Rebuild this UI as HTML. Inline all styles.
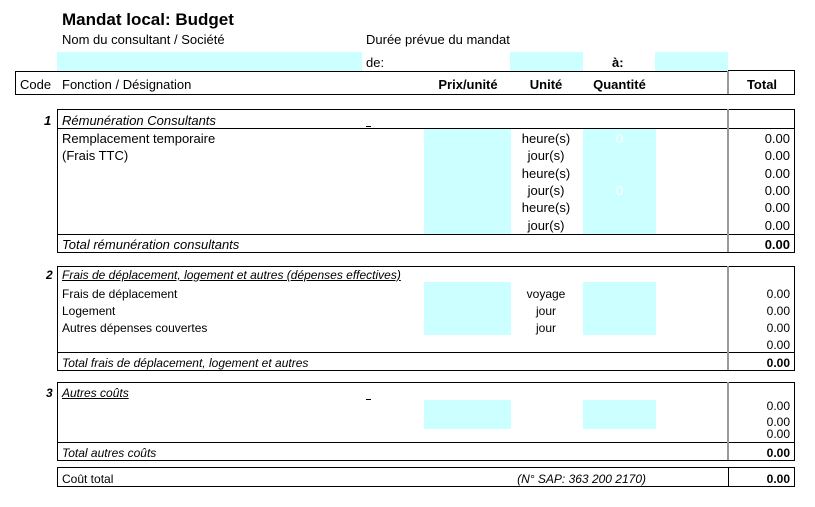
<!DOCTYPE html>
<html><head><meta charset="utf-8"><style>
body{margin:0;width:815px;height:507px;background:#fff;position:relative;overflow:hidden;font-family:"Liberation Sans",Arial,sans-serif;font-size:13px;color:#000}
.a{position:absolute;white-space:nowrap;line-height:14px}
.s .a{font-size:12px}
.c{position:absolute;background:#ccffff}
.h{position:absolute;height:1px;background:#000}
.v{position:absolute;width:1px;background:#000}
.g{position:absolute;width:2px;background:#999}
.r{text-align:right}
.m{text-align:center}
.i{font-style:italic}
.b{font-weight:bold}
.u{text-decoration:underline}
</style></head><body>
<div class="a b" style="left:62px;top:11px;font-size:17px;line-height:18px">Mandat local: Budget</div>
<div class="a" style="left:62px;top:33px">Nom du consultant / Société</div>
<div class="a" style="left:366px;top:33px">Durée prévue du mandat</div>
<div class="c" style="left:57px;top:52px;width:305px;height:19px"></div>
<div class="a" style="left:366px;top:56px">de:</div>
<div class="c" style="left:510px;top:52px;width:73px;height:19px"></div>
<div class="a b" style="left:612px;top:56px">à:</div>
<div class="c" style="left:655px;top:52px;width:73px;height:19px"></div>

<div>
<div class="h" style="left:15px;top:71px;width:713px"></div>
<div class="h" style="left:728px;top:70px;width:67px"></div>
<div class="h" style="left:15px;top:94px;width:780px"></div>
<div class="v" style="left:15px;top:71px;height:23px"></div>
<div class="g" style="left:727px;top:71px;height:23px"></div>
<div class="v" style="left:794px;top:70px;height:24px"></div>
<div class="a" style="left:20px;top:78px">Code</div>
<div class="a" style="left:62px;top:78px">Fonction / Désignation</div>
<div class="a b m" style="left:428px;top:78px;width:80px">Prix/unité</div>
<div class="a b m" style="left:516px;top:78px;width:60px">Unité</div>
<div class="a b m" style="left:583px;top:78px;width:73px">Quantité</div>
<div class="a b m" style="left:730px;top:78px;width:64px">Total</div>
</div>

<div>
<div class="h" style="left:57px;top:109px;width:738px"></div>
<div class="h" style="left:57px;top:128px;width:738px"></div>
<div class="h" style="left:57px;top:234px;width:738px"></div>
<div class="h" style="left:57px;top:252px;width:738px"></div>
<div class="v" style="left:57px;top:109px;height:143px"></div>
<div class="g" style="left:727px;top:109px;height:143px"></div>
<div class="v" style="left:794px;top:109px;height:143px"></div>
<div class="c" style="left:424px;top:129px;width:87px;height:105px"></div>
<div class="c" style="left:583px;top:129px;width:73px;height:105px"></div>
<div class="a b i" style="left:44px;top:114px">1</div>
<div class="a i" style="left:62px;top:114px">Rémunération Consultants</div>
<div class="h" style="left:366px;top:126px;width:5px"></div>
<div class="a" style="left:62px;top:132px">Remplacement temporaire</div>
<div class="a" style="left:62px;top:149px">(Frais TTC)</div>
<div class="a m" style="left:516px;top:132px;width:60px">heure(s)</div>
<div class="a m" style="left:516px;top:149px;width:60px">jour(s)</div>
<div class="a m" style="left:516px;top:167px;width:60px">heure(s)</div>
<div class="a m" style="left:516px;top:184px;width:60px">jour(s)</div>
<div class="a m" style="left:516px;top:201px;width:60px">heure(s)</div>
<div class="a m" style="left:516px;top:219px;width:60px">jour(s)</div>
<div class="a m" style="left:583px;top:132px;width:73px;color:#fff">0</div>
<div class="a m" style="left:583px;top:184px;width:73px;color:#fff">0</div>
<div class="a r" style="left:730px;top:132px;width:60px">0.00</div>
<div class="a r" style="left:730px;top:149px;width:60px">0.00</div>
<div class="a r" style="left:730px;top:167px;width:60px">0.00</div>
<div class="a r" style="left:730px;top:184px;width:60px">0.00</div>
<div class="a r" style="left:730px;top:201px;width:60px">0.00</div>
<div class="a r" style="left:730px;top:219px;width:60px">0.00</div>
<div class="a i" style="left:62px;top:238px">Total rémunération consultants</div>
<div class="a r b" style="left:730px;top:238px;width:60px">0.00</div>
</div>

<div class="s">
<div class="h" style="left:57px;top:266px;width:738px"></div>
<div class="h" style="left:57px;top:352px;width:738px"></div>
<div class="h" style="left:57px;top:370px;width:738px"></div>
<div class="v" style="left:57px;top:266px;height:104px"></div>
<div class="g" style="left:727px;top:266px;height:104px"></div>
<div class="v" style="left:794px;top:266px;height:104px"></div>
<div class="c" style="left:424px;top:282px;width:87px;height:53px"></div>
<div class="c" style="left:583px;top:282px;width:73px;height:53px"></div>
<div class="a b i" style="left:46px;top:268px">2</div>
<div class="a i u" style="left:62px;top:268px">Frais de déplacement, logement et autres (dépenses effectives)</div>
<div class="a" style="left:62px;top:287px">Frais de déplacement</div>
<div class="a" style="left:62px;top:304px">Logement</div>
<div class="a" style="left:62px;top:321px">Autres dépenses couvertes</div>
<div class="a m" style="left:516px;top:287px;width:60px">voyage</div>
<div class="a m" style="left:516px;top:304px;width:60px">jour</div>
<div class="a m" style="left:516px;top:321px;width:60px">jour</div>
<div class="a r" style="left:730px;top:287px;width:60px">0.00</div>
<div class="a r" style="left:730px;top:304px;width:60px">0.00</div>
<div class="a r" style="left:730px;top:321px;width:60px">0.00</div>
<div class="a r" style="left:730px;top:338px;width:60px">0.00</div>
<div class="a i" style="left:62px;top:356px">Total frais de déplacement, logement et autres</div>
<div class="a r b" style="left:730px;top:356px;width:60px">0.00</div>
</div>

<div class="s">
<div class="h" style="left:57px;top:382px;width:738px"></div>
<div class="h" style="left:57px;top:442px;width:738px"></div>
<div class="h" style="left:57px;top:460px;width:738px"></div>
<div class="v" style="left:57px;top:382px;height:78px"></div>
<div class="g" style="left:727px;top:382px;height:78px"></div>
<div class="v" style="left:794px;top:382px;height:78px"></div>
<div class="c" style="left:424px;top:400px;width:87px;height:29px"></div>
<div class="c" style="left:583px;top:400px;width:73px;height:29px"></div>
<div class="a b i" style="left:46px;top:386px">3</div>
<div class="a i u" style="left:62px;top:386px">Autres coûts</div>
<div class="h" style="left:366px;top:399px;width:5px"></div>
<div class="a r" style="left:730px;top:399px;width:60px">0.00</div>
<div class="a r" style="left:730px;top:415px;width:60px">0.00</div>
<div class="a r" style="left:730px;top:427px;width:60px">0.00</div>
<div class="a i" style="left:62px;top:446px">Total autres coûts</div>
<div class="a r b" style="left:730px;top:446px;width:60px">0.00</div>
</div>

<div class="s">
<div class="h" style="left:57px;top:467px;width:738px"></div>
<div class="h" style="left:57px;top:486px;width:738px"></div>
<div class="v" style="left:57px;top:467px;height:19px"></div>
<div class="v" style="left:728px;top:467px;height:19px"></div>
<div class="v" style="left:794px;top:467px;height:19px"></div>
<div class="a" style="left:62px;top:472px">Coût total</div>
<div class="a i r" style="left:446px;top:472px;width:200px">(N° SAP: 363 200 2170)</div>
<div class="a r b" style="left:730px;top:472px;width:60px">0.00</div>
</div>
</body></html>
